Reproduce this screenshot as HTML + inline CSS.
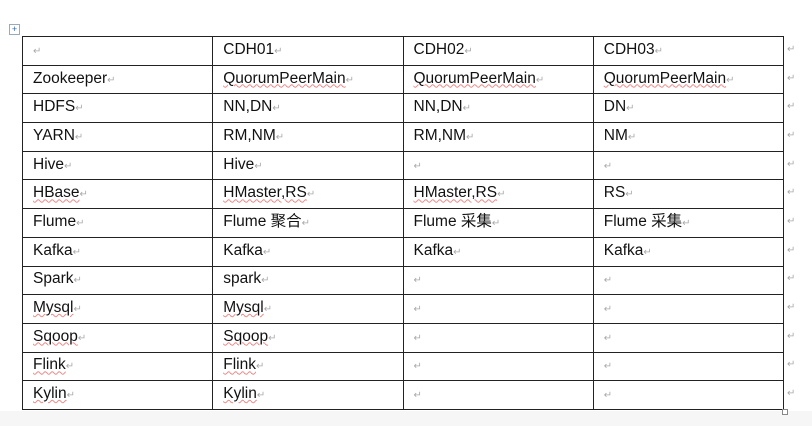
<!DOCTYPE html>
<html><head><meta charset="utf-8"><style>
body{margin:0;width:812px;height:426px;background:#fff;position:relative;overflow:hidden;font-family:"Liberation Sans","Noto Sans CJK SC",sans-serif;}
.bot{position:absolute;left:0;top:411px;width:812px;height:15px;background:#f6f6f6;}
table{position:absolute;left:22px;top:36px;border-collapse:collapse;table-layout:fixed;width:762px;height:374px;}
tr{height:28.7px;}
td{border:1.5px solid #222;width:190px;padding:0 0 0 10px;box-sizing:border-box;font-size:15.5px;line-height:18px;color:#111;white-space:nowrap;overflow:hidden;}
.m{color:#aaa;font-size:10px;}
.side{position:absolute;left:787px;color:#aaa;font-size:10px;}
.u{text-decoration:underline wavy #e88;text-decoration-thickness:1px;}
.mv{position:absolute;left:9px;top:24px;width:9px;height:9px;border:1px solid #9ab;color:#36a;font-size:9px;line-height:9px;text-align:center;}
</style></head><body>
<div class="bot"></div>
<div class="mv">+</div>
<table>
<tr><td><span class="m">↵</span></td><td>CDH01<span class="m">↵</span></td><td>CDH02<span class="m">↵</span></td><td>CDH03<span class="m">↵</span></td></tr>
<tr><td>Zookeeper<span class="m">↵</span></td><td><span class="u">QuorumPeerMain</span><span class="m">↵</span></td><td><span class="u">QuorumPeerMain</span><span class="m">↵</span></td><td><span class="u">QuorumPeerMain</span><span class="m">↵</span></td></tr>
<tr><td>HDFS<span class="m">↵</span></td><td>NN,DN<span class="m">↵</span></td><td>NN,DN<span class="m">↵</span></td><td>DN<span class="m">↵</span></td></tr>
<tr><td>YARN<span class="m">↵</span></td><td>RM,NM<span class="m">↵</span></td><td>RM,NM<span class="m">↵</span></td><td>NM<span class="m">↵</span></td></tr>
<tr><td>Hive<span class="m">↵</span></td><td>Hive<span class="m">↵</span></td><td><span class="m">↵</span></td><td><span class="m">↵</span></td></tr>
<tr><td><span class="u">HBase</span><span class="m">↵</span></td><td><span class="u">HMaster,RS</span><span class="m">↵</span></td><td><span class="u">HMaster,RS</span><span class="m">↵</span></td><td>RS<span class="m">↵</span></td></tr>
<tr><td>Flume<span class="m">↵</span></td><td>Flume 聚合<span class="m">↵</span></td><td>Flume 采集<span class="m">↵</span></td><td>Flume 采集<span class="m">↵</span></td></tr>
<tr><td>Kafka<span class="m">↵</span></td><td>Kafka<span class="m">↵</span></td><td>Kafka<span class="m">↵</span></td><td>Kafka<span class="m">↵</span></td></tr>
<tr><td>Spark<span class="m">↵</span></td><td>spark<span class="m">↵</span></td><td><span class="m">↵</span></td><td><span class="m">↵</span></td></tr>
<tr><td><span class="u">Mysql</span><span class="m">↵</span></td><td><span class="u">Mysql</span><span class="m">↵</span></td><td><span class="m">↵</span></td><td><span class="m">↵</span></td></tr>
<tr><td><span class="u">Sqoop</span><span class="m">↵</span></td><td><span class="u">Sqoop</span><span class="m">↵</span></td><td><span class="m">↵</span></td><td><span class="m">↵</span></td></tr>
<tr><td><span class="u">Flink</span><span class="m">↵</span></td><td><span class="u">Flink</span><span class="m">↵</span></td><td><span class="m">↵</span></td><td><span class="m">↵</span></td></tr>
<tr><td><span class="u">Kylin</span><span class="m">↵</span></td><td><span class="u">Kylin</span><span class="m">↵</span></td><td><span class="m">↵</span></td><td><span class="m">↵</span></td></tr>
</table>
<div class="side" style="top:44px">↵</div>
<div class="side" style="top:73px">↵</div>
<div class="side" style="top:101px">↵</div>
<div class="side" style="top:130px">↵</div>
<div class="side" style="top:159px">↵</div>
<div class="side" style="top:187px">↵</div>
<div class="side" style="top:216px">↵</div>
<div class="side" style="top:245px">↵</div>
<div class="side" style="top:273px">↵</div>
<div class="side" style="top:302px">↵</div>
<div class="side" style="top:331px">↵</div>
<div class="side" style="top:359px">↵</div>
<div class="side" style="top:388px">↵</div>
<div style="position:absolute;left:782px;top:409px;width:4px;height:4px;border:1px solid #888;background:#fff"></div>
</body></html>
